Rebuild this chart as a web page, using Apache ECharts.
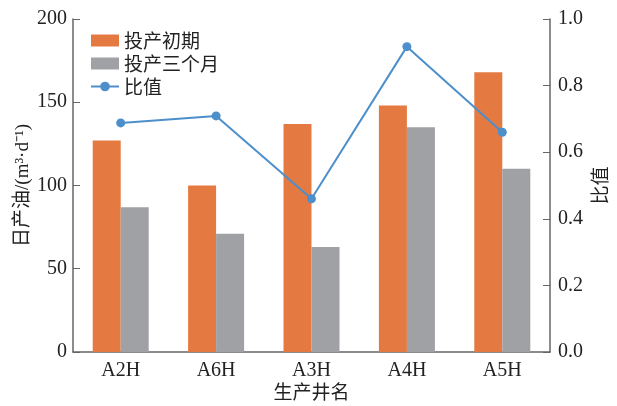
<!DOCTYPE html>
<html><head><meta charset="utf-8">
<script src="https://cdn.jsdelivr.net/npm/echarts@6/dist/echarts.min.js"></script>
<style>html,body{margin:0;padding:0;background:#fff}#c{width:617px;height:406px}</style>
</head><body><div id="c"></div>
<script>
var categories = ['A2H','A6H','A3H','A4H','A5H'];
var initial = [127, 100, 137, 148, 168];
var threeMonth = [87, 71, 63, 135, 110];
var ratio = [0.688, 0.709, 0.46, 0.917, 0.66];
var leftTicks = [0, 50, 100, 150, 200];
var rightTicks = [0, 0.2, 0.4, 0.6, 0.8, 1.0];

var FONT = '"Liberation Serif", "Noto Sans CJK SC", serif';
var CJK = '"Noto Sans CJK SC", "Liberation Serif", sans-serif';
var axisColor = '#666';
var textColor = '#222';

var chart = echarts.init(document.getElementById('c'));
chart.setOption({
  animation: false,
  grid: {left: 73, right: 58, top: 19, bottom: 53},
  legend: {
    left: 85, top: 26, orient: 'vertical', itemGap: 4,
    itemWidth: 28, itemHeight: 12,
    textStyle: {fontFamily: CJK, fontSize: 19, color: textColor},
    data: [
      {name: '投产初期', icon: 'rect'},
      {name: '投产三个月', icon: 'rect'},
      {name: '比值'}
    ]
  },
  xAxis: {
    type: 'category', data: categories,
    name: '生产井名', nameLocation: 'middle', nameGap: 30, nameMoveOverlap: false,
    nameTextStyle: {fontFamily: CJK, fontSize: 19, color: textColor, verticalAlign: 'top'},
    axisLine: {lineStyle: {color: axisColor, width: 1.5}},
    axisTick: {show: false},
    axisLabel: {fontFamily: FONT, fontSize: 20, color: textColor, margin: 9}
  },
  yAxis: [{
    type: 'value', min: leftTicks[0], max: leftTicks[leftTicks.length-1], interval: 50,
    name: '日产油/(m³·d⁻¹)', nameLocation: 'middle', nameGap: 40, nameMoveOverlap: false,
    nameTextStyle: {fontFamily: FONT, fontSize: 19, color: textColor},
    axisLine: {show: true, lineStyle: {color: axisColor, width: 1.5}},
    axisTick: {show: true, inside: true, length: 7, lineStyle: {color: axisColor}},
    axisLabel: {fontFamily: FONT, fontSize: 20, color: textColor, margin: 6},
    splitLine: {show: false}
  }, {
    type: 'value', min: rightTicks[0], max: rightTicks[rightTicks.length-1], interval: 0.2,
    name: '比值', nameLocation: 'middle', nameGap: 40, nameRotate: 90, nameMoveOverlap: false,
    nameTextStyle: {fontFamily: CJK, fontSize: 19, color: textColor},
    axisLine: {show: true, lineStyle: {color: axisColor, width: 1.5}},
    axisTick: {show: true, inside: true, length: 7, lineStyle: {color: axisColor}},
    axisLabel: {fontFamily: FONT, fontSize: 20, color: textColor, margin: 8,
      formatter: function(v){return v.toFixed(1);}},
    splitLine: {show: false}
  }],
  series: [{
    name: '投产初期', type: 'bar', data: initial, barWidth: 28, barGap: '0%',
    itemStyle: {color: '#E47A42'}
  }, {
    name: '投产三个月', type: 'bar', data: threeMonth, barWidth: 28,
    itemStyle: {color: '#A0A1A5'}
  }, {
    name: '比值', type: 'line', yAxisIndex: 1, data: ratio,
    symbol: 'circle', symbolSize: 9,
    lineStyle: {color: '#4C8FCB', width: 2},
    itemStyle: {color: '#4C8FCB'}
  }]
});
</script></body></html>
